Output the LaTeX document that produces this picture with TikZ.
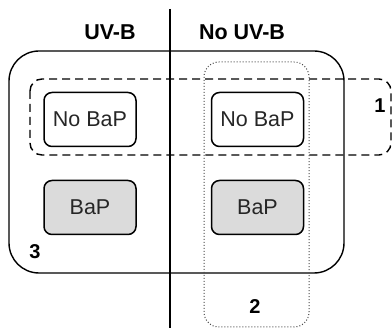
\documentclass[tikz,border=0pt]{standalone}
\usepackage{fontspec}
\setmainfont{Liberation Sans}
\begin{document}
\begin{tikzpicture}[x=1pt,y=-1pt,
  box/.style={draw=black,line width=1.5pt,rounded corners=8pt,minimum width=92pt,minimum height=54pt,inner sep=0pt,font=\fontsize{21.5}{24}\selectfont,text=black!85},
  graybox/.style={box,fill=black!14},
  head/.style={font=\bfseries\fontsize{21.5}{24}\selectfont,inner sep=0pt},
  num/.style={font=\bfseries\fontsize{20}{23}\selectfont,inner sep=0pt}]
\useasboundingbox (0,0) rectangle (392,331);
\fill[white] (0,0) rectangle (392,331);
% group 3 (solid)
\draw[line width=1.4pt,rounded corners=30pt] (9,51) rectangle (344,273);
% group 1 (dashed)
\draw[line width=1.4pt,dash pattern=on 8pt off 5pt,rounded corners=12pt] (30,79) rectangle (391,155);
% group 2 (dotted)
\draw[line width=1pt,black!70,dash pattern=on 1pt off 2pt,rounded corners=15pt] (204,62) rectangle (309,327);
% divider
\coordinate (top) at (170,9);
\coordinate (bot) at (170,328);
\draw[line width=2pt] (top) -- (bot);
% headings
\node[head] (uvb) at (110,32) {UV-B};
\node[head] (nouvb) at (242,32) {No UV-B};
% boxes
\node[box,fill=white] (nb1) at (90,119.5) {No BaP};
\node[box,fill=white] (nb2) at (257.5,119.5) {No BaP};
\node[graybox] (b1) at (90,207.5) {BaP};
\node[graybox] (b2) at (257.5,207.5) {BaP};
% numbers
\node[num] (n1) at (380,106) {1};
\node[num] (n2) at (255,307) {2};
\node[num] (n3) at (35,252) {3};
\end{tikzpicture}
\end{document}
